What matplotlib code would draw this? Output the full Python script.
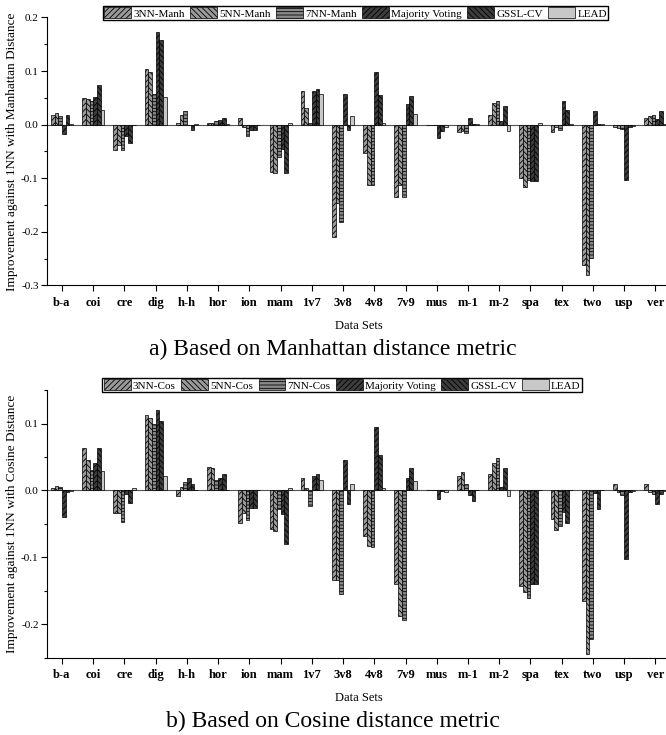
import numpy as np
import matplotlib
matplotlib.use('Agg')
import matplotlib.pyplot as plt
from matplotlib.ticker import MultipleLocator, FormatStrFormatter

plt.rcParams['font.family'] = ['Liberation Serif', 'DejaVu Serif']
plt.rcParams['axes.unicode_minus'] = False
plt.rcParams['hatch.linewidth'] = 0.6

datasets = ['b-a', 'coi', 'cre', 'dig', 'h-h', 'hor', 'ion', 'mam', '1v7', '3v8',
            '4v8', '7v9', 'mus', 'm-1', 'm-2', 'spa', 'tex', 'two', 'usp', 'ver']

# Manhattan distance
man_3nn = [0.019, 0.049, -0.047, 0.103, 0.004, 0.004, 0.012, -0.088, 0.062, -0.209,
           -0.053, -0.135, 0.0, -0.013, 0.019, -0.099, -0.014, -0.261, -0.004, 0.013]
man_5nn = [0.022, 0.048, -0.037, 0.099, 0.019, 0.003, -0.004, -0.091, 0.032, -0.147,
           -0.113, -0.113, 0.0, -0.012, 0.041, -0.117, -0.005, -0.280, -0.006, 0.016]
man_7nn = [0.017, 0.045, -0.048, 0.058, 0.025, 0.006, -0.022, -0.061, 0.003, -0.182,
           -0.113, -0.134, 0.0, -0.016, 0.045, -0.103, -0.010, -0.249, -0.008, 0.019]
man_mv = [-0.017, 0.051, -0.021, 0.173, -0.001, 0.008, -0.010, -0.046, 0.063, 0.058,
          0.098, 0.039, -0.024, 0.012, 0.007, -0.106, 0.045, 0.025, -0.104, 0.011]
man_gssl = [0.019, 0.074, -0.035, 0.158, -0.010, 0.013, -0.010, -0.091, 0.066, -0.009,
            0.056, 0.053, -0.011, 0.002, 0.035, -0.106, 0.027, 0.002, -0.004, 0.025]
man_lead = [0.001, 0.027, -0.001, 0.051, 0.001, 0.001, 0.0, 0.003, 0.057, 0.016,
            0.004, 0.020, -0.005, 0.001, -0.011, 0.004, 0.001, 0.001, -0.002, 0.001]

# Cosine distance
cos_3nn = [0.003, 0.063, -0.034, 0.113, -0.008, 0.035, -0.049, -0.057, 0.019, -0.134,
           -0.068, -0.140, 0.0, 0.022, 0.025, -0.142, -0.042, -0.165, 0.010, 0.010]
cos_5nn = [0.007, 0.045, -0.034, 0.109, 0.005, 0.034, -0.034, -0.061, 0.004, -0.134,
           -0.083, -0.188, 0.0, 0.028, 0.041, -0.152, -0.059, -0.245, -0.002, -0.003]
cos_7nn = [0.005, 0.030, -0.047, 0.100, 0.013, 0.016, -0.044, -0.027, -0.023, -0.155,
           -0.085, -0.194, 0.0, 0.010, 0.049, -0.161, -0.053, -0.222, -0.007, -0.006]
cos_mv = [-0.039, 0.041, -0.005, 0.120, 0.018, 0.019, -0.026, -0.035, 0.021, 0.046,
          0.095, 0.018, -0.013, -0.007, 0.005, -0.140, -0.032, -0.004, -0.102, -0.020]
cos_gssl = [-0.003, 0.064, -0.019, 0.104, 0.010, 0.025, -0.026, -0.080, 0.024, -0.020,
            0.053, 0.033, -0.001, -0.015, 0.034, -0.140, -0.048, -0.027, -0.002, -0.005]
cos_lead = [-0.001, 0.029, 0.004, 0.022, 0.001, 0.001, 0.001, 0.003, 0.015, 0.010,
            0.004, 0.014, -0.003, 0.0, -0.008, 0.001, 0.0, 0.0, -0.001, -0.001]

styles = [('#9a9a9a', '//////'), ('#9a9a9a', '\\\\\\\\\\\\'), ('#8a8a8a', '-----'),
          ('#3c3c3c', '//////'), ('#3c3c3c', '\\\\\\\\\\\\'), ('#c8c8c8', '')]

fig = plt.figure(figsize=(6.66, 7.35), dpi=100)


def draw(ax, series, labels, ylim, ylabel, leg_center):
    x = np.arange(len(datasets))
    w = 0.118
    handles = []
    for j, (vals, lab) in enumerate(zip(series, labels)):
        fc, h = styles[j]
        b = ax.bar(x + (j - 2.5) * w, vals, w, color=fc, edgecolor='black',
                   hatch=h, linewidth=0.5, label=lab, zorder=2)
        handles.append(b)
    ax.axhline(0, color='#555555', lw=0.8, zorder=1)
    ax.set_xlim(-0.48, len(datasets) - 0.52)
    ax.set_ylim(*ylim)
    ax.set_xticks(x)
    ax.set_xticklabels(datasets, fontweight='bold', fontsize=9)
    ax.yaxis.set_major_locator(MultipleLocator(0.1))
    ax.yaxis.set_minor_locator(MultipleLocator(0.05))
    ax.yaxis.set_major_formatter(FormatStrFormatter('%.1f'))
    ax.tick_params(axis='y', which='major', length=4, width=0.8, labelsize=8, pad=2, direction='out')
    ax.tick_params(axis='y', which='minor', length=2, width=0.8, direction='out')
    ax.tick_params(axis='x', length=4, width=0.8, direction='out', pad=4)
    ax.spines['top'].set_visible(False)
    ax.spines['right'].set_visible(False)
    ax.set_ylabel(ylabel, fontsize=9.5)
    ax.yaxis.set_label_coords(-0.046, 0.5)
    ax.set_xlabel('Data Sets', fontsize=9, labelpad=8)
    fig.legend(handles=handles, loc='center', bbox_to_anchor=leg_center, ncol=6,
               fontsize=8, frameon=True, fancybox=False, edgecolor='black',
               framealpha=1, handlelength=2.4, handleheight=1.1, handletextpad=0.2,
               columnspacing=0.5, borderpad=0.15, borderaxespad=0)


ax1 = fig.add_axes([0.0706, 0.6116, 0.936, 0.3646])
draw(ax1, [man_3nn, man_5nn, man_7nn, man_mv, man_gssl, man_lead],
     ['3NN-Manh', '5NN-Manh', '7NN-Manh', 'Majority Voting', 'GSSL-CV', 'LEAD'],
     (-0.3, 0.2), 'Improvement against 1NN with Manhattan Distance', (0.5338, 0.9823))

ax2 = fig.add_axes([0.0706, 0.105, 0.936, 0.3643])
draw(ax2, [cos_3nn, cos_5nn, cos_7nn, cos_mv, cos_gssl, cos_lead],
     ['3NN-Cos', '5NN-Cos', '7NN-Cos', 'Majority Voting', 'GSSL-CV', 'LEAD'],
     (-0.25, 0.15), 'Improvement against 1NN with Cosine Distance', (0.514, 0.4762))

fig.text(0.5, 1 - 349 / 735, 'a) Based on Manhattan distance metric', ha='center', va='center', fontsize=17)
fig.text(0.5, 1 - 721 / 735, 'b) Based on Cosine distance metric', ha='center', va='center', fontsize=17)

fig.savefig('out.png', dpi=100)
